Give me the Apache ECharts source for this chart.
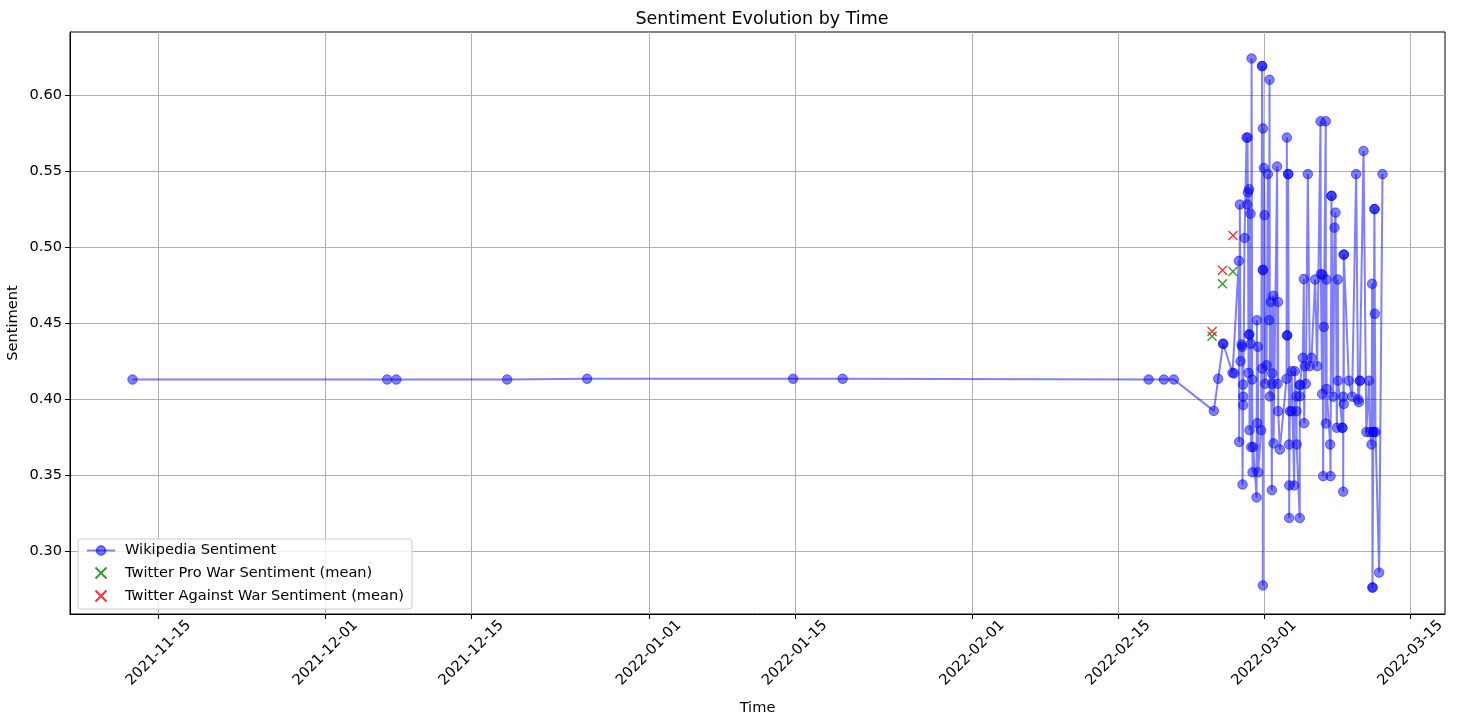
<!DOCTYPE html>
<html>
<head>
<meta charset="utf-8">
<script src="https://cdn.jsdelivr.net/npm/echarts@6/dist/echarts.min.js"></script>
<style>
  html, body { margin: 0; padding: 0; background: #ffffff; }
  #chart { width: 1460px; height: 719px; }
</style>
</head>
<body>
<div id="chart"></div>
<script>
// Wikipedia edit sentiment, one entry per revision (UTC timestamps)
const wikiTimes = [
  '2021-11-12 12:00', '2021-12-06 22:00', '2021-12-07 19:00', '2021-12-18 10:00',
  '2021-12-26 02:00', '2022-01-14 20:00', '2022-01-19 14:00', '2022-02-17 22:00',
  '2022-02-19 09:00', '2022-02-20 08:00', '2022-02-24 04:00', '2022-02-24 14:00',
  '2022-02-25 01:20', '2022-02-25 01:40', '2022-02-25 23:00', '2022-02-26 03:00',
  '2022-02-26 13:40', '2022-02-26 14:20', '2022-02-26 15:50', '2022-02-26 17:30',
  '2022-02-26 19:50', '2022-02-26 21:10', '2022-02-26 22:05', '2022-02-26 23:20',
  '2022-02-26 23:30', '2022-02-26 23:40', '2022-02-27 02:40', '2022-02-27 07:20',
  '2022-02-27 08:40', '2022-02-27 09:30', '2022-02-27 10:20', '2022-02-27 11:55',
  '2022-02-27 13:10', '2022-02-27 13:20', '2022-02-27 13:30', '2022-02-27 14:10',
  '2022-02-27 16:30', '2022-02-27 17:10', '2022-02-27 17:55', '2022-02-27 18:50',
  '2022-02-27 20:10', '2022-02-27 21:05', '2022-02-27 22:30', '2022-02-28 06:20',
  '2022-02-28 07:00', '2022-02-28 07:40', '2022-02-28 09:20', '2022-02-28 10:00',
  '2022-02-28 16:50', '2022-02-28 19:00', '2022-02-28 19:10', '2022-02-28 19:20',
  '2022-02-28 20:40', '2022-02-28 20:50', '2022-02-28 21:00', '2022-02-28 21:10',
  '2022-02-28 23:05', '2022-03-01 00:40', '2022-03-01 02:05', '2022-03-01 05:20',
  '2022-03-01 08:20', '2022-03-01 11:15', '2022-03-01 12:10', '2022-03-01 12:50',
  '2022-03-01 15:10', '2022-03-01 17:30', '2022-03-01 18:00', '2022-03-01 18:20',
  '2022-03-01 20:30', '2022-03-01 21:25', '2022-03-02 05:40', '2022-03-02 06:35',
  '2022-03-02 07:50', '2022-03-02 08:10', '2022-03-02 11:55', '2022-03-03 03:20',
  '2022-03-03 04:00', '2022-03-03 04:30', '2022-03-03 04:50', '2022-03-03 06:50',
  '2022-03-03 07:10', '2022-03-03 09:10', '2022-03-03 09:20', '2022-03-03 09:30',
  '2022-03-03 10:55', '2022-03-03 14:40', '2022-03-03 15:00', '2022-03-03 20:50',
  '2022-03-03 22:25', '2022-03-04 02:10', '2022-03-04 02:20', '2022-03-04 02:30',
  '2022-03-04 09:40', '2022-03-04 09:50', '2022-03-04 10:00', '2022-03-04 10:10',
  '2022-03-04 16:50', '2022-03-04 19:05', '2022-03-04 19:50', '2022-03-04 21:25',
  '2022-03-04 23:40', '2022-03-05 04:15', '2022-03-05 08:50', '2022-03-05 12:50',
  '2022-03-05 21:05', '2022-03-06 01:40', '2022-03-06 09:30', '2022-03-06 10:10',
  '2022-03-06 13:10', '2022-03-06 14:05', '2022-03-06 15:30', '2022-03-06 17:05',
  '2022-03-06 21:30', '2022-03-06 21:50', '2022-03-06 23:10', '2022-03-06 23:30',
  '2022-03-07 07:35', '2022-03-07 08:30', '2022-03-07 10:40', '2022-03-07 11:00',
  '2022-03-07 14:30', '2022-03-07 17:40', '2022-03-07 20:00', '2022-03-07 23:00',
  '2022-03-08 01:15', '2022-03-08 02:00', '2022-03-08 11:30', '2022-03-08 11:50',
  '2022-03-08 13:20', '2022-03-08 13:40', '2022-03-08 14:50', '2022-03-08 15:00',
  '2022-03-08 15:10', '2022-03-09 02:35', '2022-03-09 10:10', '2022-03-09 19:25',
  '2022-03-10 00:00', '2022-03-10 01:35', '2022-03-10 03:45', '2022-03-10 04:05',
  '2022-03-10 12:25', '2022-03-10 18:50', '2022-03-11 01:15', '2022-03-11 03:00',
  '2022-03-11 06:50', '2022-03-11 08:10', '2022-03-11 09:00', '2022-03-11 09:10',
  '2022-03-11 11:00', '2022-03-11 11:10', '2022-03-11 13:30', '2022-03-11 13:50',
  '2022-03-11 14:25', '2022-03-11 16:00', '2022-03-12 00:20', '2022-03-12 08:05'
];
const wikiValues = [
  0.413, 0.413, 0.413, 0.413,
  0.4135, 0.4135, 0.4135, 0.413,
  0.413, 0.413, 0.3924, 0.4135,
  0.4365, 0.4365, 0.4174, 0.417,
  0.491, 0.372, 0.528, 0.425,
  0.436, 0.4345, 0.344, 0.4097,
  0.3962, 0.4017, 0.506, 0.572,
  0.528, 0.572, 0.536, 0.4174,
  0.538, 0.4426, 0.4426, 0.3797,
  0.522, 0.4365, 0.3686, 0.624,
  0.413, 0.352, 0.3686, 0.3355,
  0.452, 0.3843, 0.4345, 0.352,
  0.3797, 0.619, 0.4202, 0.619,
  0.485, 0.2777, 0.578, 0.485,
  0.552, 0.521, 0.4102, 0.4224,
  0.548, 0.452, 0.610, 0.4019,
  0.464, 0.3403, 0.4102, 0.417,
  0.468, 0.371, 0.553, 0.4102,
  0.464, 0.3922, 0.367, 0.4135,
  0.572, 0.442, 0.442, 0.548,
  0.548, 0.3703, 0.322, 0.3434,
  0.3922, 0.3922, 0.4185, 0.3434,
  0.4185, 0.3922, 0.402, 0.3703,
  0.322, 0.409, 0.402, 0.4097,
  0.4273, 0.479, 0.3843, 0.4218,
  0.4102, 0.548, 0.4218, 0.4273,
  0.4787, 0.4218, 0.5827, 0.4824,
  0.4035, 0.4818, 0.3495, 0.4476,
  0.5827, 0.3841, 0.4787, 0.4068,
  0.3703, 0.3495, 0.5337, 0.5337,
  0.4017, 0.5128, 0.5227, 0.3813,
  0.4787, 0.4122, 0.3813, 0.3813,
  0.4017, 0.3393, 0.4951, 0.397,
  0.4951, 0.4122, 0.4017, 0.548,
  0.3999, 0.3981, 0.4122, 0.4122,
  0.5632, 0.3785, 0.4122, 0.3785,
  0.3703, 0.4759, 0.2763, 0.2763,
  0.3785, 0.3785, 0.525, 0.525,
  0.4562, 0.3785, 0.2861, 0.548
];

// Daily mean sentiment of tweets, split by stance
const twitterDays = ['2022-02-24 00:00', '2022-02-25 00:00', '2022-02-26 00:00'];
const twitterProWar = [0.4415, 0.476, 0.484];
const twitterAgainstWar = [0.4445, 0.4848, 0.5076];

// Axis tick positions
const xTickDates = ['2021-11-15', '2021-12-01', '2021-12-15', '2022-01-01', '2022-01-15',
                    '2022-02-01', '2022-02-15', '2022-03-01', '2022-03-15'];
const yTickValues = [0.30, 0.35, 0.40, 0.45, 0.50, 0.55, 0.60];

const FONT = 'DejaVu Sans';
const FS = 14.6;
const toMs = s => Date.parse(s.replace(' ', 'T') + (s.length > 10 ? ':00Z' : 'T00:00:00Z'));

const wikiData = wikiTimes.map((t, i) => [toMs(t), wikiValues[i]]);
const proData = twitterDays.map((t, i) => [toMs(t), twitterProWar[i]]);
const againstData = twitterDays.map((t, i) => [toMs(t), twitterAgainstWar[i]]);

// 5% padding around the data extent on both axes
function paddedRange(vals) {
  const lo = Math.min(...vals), hi = Math.max(...vals);
  const pad = (hi - lo) * 0.05;
  return [lo - pad, hi + pad];
}
const allX = wikiData.concat(proData, againstData).map(d => d[0]);
const allY = wikiData.concat(proData, againstData).map(d => d[1]);
const [xMin, xMax] = paddedRange(allX);
const [yMin, yMax] = paddedRange(allY);

const crossPath = 'path://M0,0L10,10M10,0L0,10';

const chart = echarts.init(document.getElementById('chart'), null, { renderer: 'canvas' });
chart.setOption({
  animation: false,
  backgroundColor: '#ffffff',
  textStyle: { fontFamily: FONT },
  title: {
    text: 'Sentiment Evolution by Time',
    left: 757,
    textAlign: 'center',
    top: 5,
    textStyle: { fontFamily: FONT, fontSize: 17.5, fontWeight: 'normal', color: '#000' }
  },
  grid: {
    left: 70, right: 15, top: 32, bottom: 105,
    show: true, borderColor: '#000', borderWidth: 1, backgroundColor: 'transparent',
    containLabel: false,
    outerBoundsMode: 'none'
  },
  legend: {
    orient: 'vertical',
    left: 78,
    top: 539,
    padding: [4, 8, 5, 8],
    itemGap: 7,
    itemWidth: 28,
    itemHeight: 11,
    backgroundColor: 'rgba(255,255,255,0.8)',
    borderColor: '#cccccc',
    borderWidth: 1,
    borderRadius: 3,
    textStyle: { fontFamily: FONT, fontSize: FS, lineHeight: 14, color: '#000', padding: [0, 0, 0, 5] },
    data: ['Wikipedia Sentiment', 'Twitter Pro War Sentiment (mean)', 'Twitter Against War Sentiment (mean)']
  },
  xAxis: {
    type: 'value',
    min: xMin,
    max: xMax,
    name: 'Time',
    nameLocation: 'middle',
    nameGap: 87,
    nameMoveOverlap: false,
    nameTextStyle: { fontFamily: FONT, fontSize: FS, color: '#000' },
    axisLine: { show: true, lineStyle: { color: '#000', width: 1 } },
    axisTick: {
      show: true, inside: false, length: 5,
      lineStyle: { color: '#000', width: 1 },
      customValues: xTickDates.map(toMs)
    },
    axisLabel: {
      show: true,
      rotate: 45,
      align: 'center',
      verticalAlign: 'middle',
      margin: 39,
      fontFamily: FONT,
      fontSize: FS,
      color: '#000',
      customValues: xTickDates.map(toMs),
      formatter: v => new Date(v).toISOString().slice(0, 10)
    },
    splitLine: { show: true, lineStyle: { color: '#b0b0b0', width: 1 } }
  },
  yAxis: {
    type: 'value',
    min: yMin,
    max: yMax,
    name: 'Sentiment',
    nameLocation: 'middle',
    nameGap: 49,
    nameMoveOverlap: false,
    nameTextStyle: { fontFamily: FONT, fontSize: FS, color: '#000' },
    axisLine: { show: true, lineStyle: { color: '#000', width: 1 } },
    axisTick: {
      show: true, inside: false, length: 5,
      lineStyle: { color: '#000', width: 1 },
      customValues: yTickValues
    },
    axisLabel: {
      show: true,
      margin: 8,
      fontFamily: FONT,
      fontSize: FS,
      color: '#000',
      customValues: yTickValues,
      formatter: v => v.toFixed(2)
    },
    splitLine: { show: true, lineStyle: { color: '#b0b0b0', width: 1 } }
  },
  series: [
    {
      name: 'Wikipedia Sentiment',
      type: 'line',
      data: wikiData,
      symbol: 'circle',
      symbolSize: 9.5,
      showAllSymbol: true,
      lineStyle: { color: 'rgba(0,0,255,0.5)', width: 2 },
      itemStyle: { color: 'rgba(0,0,255,0.5)', borderColor: 'rgba(0,0,255,0.5)', borderWidth: 1 },
      emphasis: { disabled: true },
      z: 2
    },
    {
      name: 'Twitter Pro War Sentiment (mean)',
      type: 'scatter',
      data: proData,
      symbol: crossPath,
      symbolSize: 9,
      itemStyle: { color: 'none', borderColor: '#008000', borderWidth: 1.4 },
      emphasis: { disabled: true },
      z: 3
    },
    {
      name: 'Twitter Against War Sentiment (mean)',
      type: 'scatter',
      data: againstData,
      symbol: crossPath,
      symbolSize: 9,
      itemStyle: { color: 'none', borderColor: '#ff0000', borderWidth: 1.4 },
      emphasis: { disabled: true },
      z: 4
    }
  ]
});
</script>
</body>
</html>
